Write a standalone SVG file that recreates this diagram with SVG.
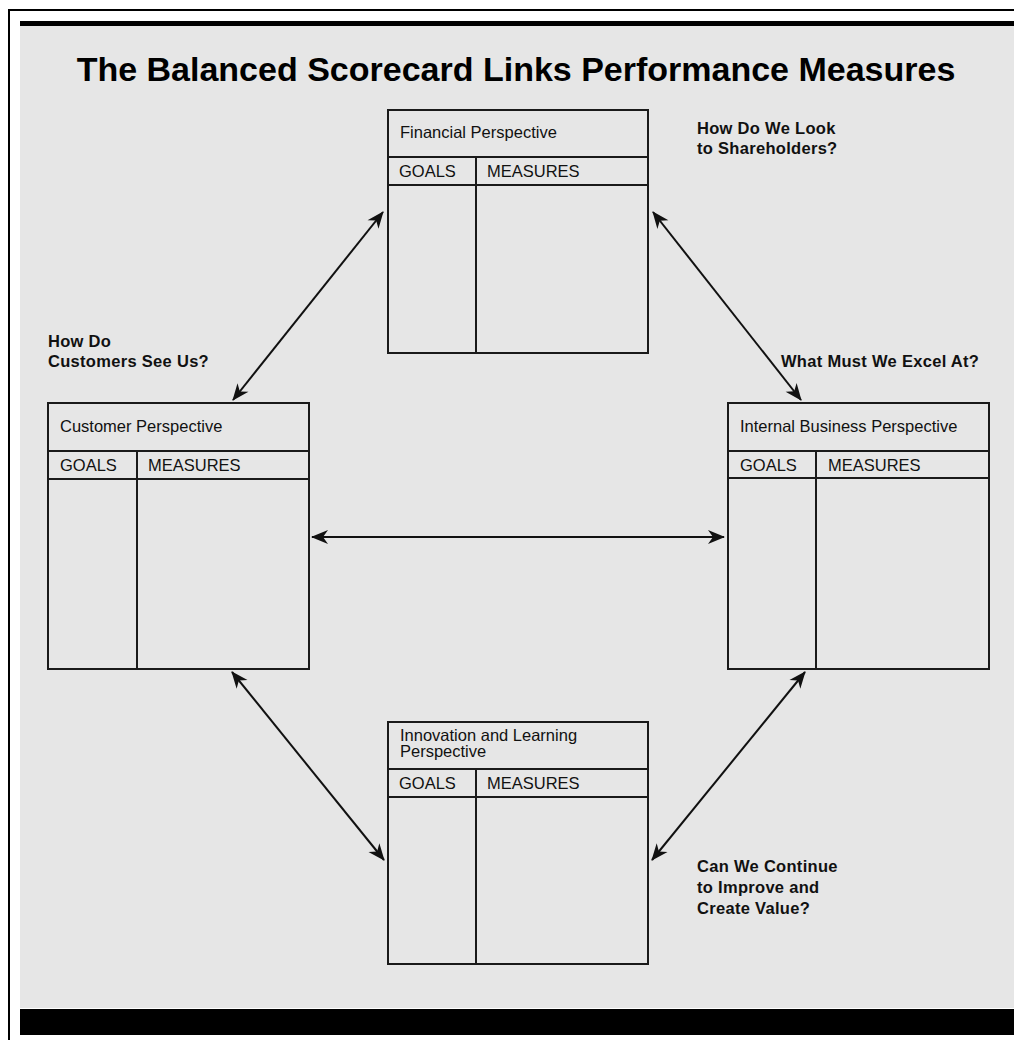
<svg xmlns="http://www.w3.org/2000/svg" width="1014" height="1040" viewBox="0 0 1014 1040">
<style>
.box{fill:none;stroke:#1a1a1a;stroke-width:2}
.ln{stroke:#1a1a1a;stroke-width:2}
.t{font-family:"Liberation Sans",Arial,sans-serif;font-size:16.5px;fill:#111}
.q{font-family:"Liberation Sans",Arial,sans-serif;font-size:16.5px;font-weight:bold;fill:#111;letter-spacing:0.3px}
.title{font-family:"Liberation Sans",Arial,sans-serif;font-size:34px;font-weight:bold;fill:#000}
.conn{stroke:#111;stroke-width:2;fill:none;marker-start:url(#ah);marker-end:url(#ah)}
</style>
<defs>
<marker id="ah" viewBox="-17 -8 18 16" refX="0" refY="0" markerWidth="18" markerHeight="16" markerUnits="userSpaceOnUse" orient="auto-start-reverse">
<path d="M1,0 L-16,-7 L-11,0 L-16,7 Z" fill="#111"/>
</marker>
</defs>
<rect x="0" y="0" width="1014" height="1040" fill="#fff"/>
<path d="M9,1040 V10 H1014" fill="none" stroke="#000" stroke-width="2"/>
<rect x="20" y="21" width="994" height="5" fill="#000"/>
<rect x="20" y="26" width="994" height="982" fill="#e6e6e6"/>
<rect x="20" y="1009" width="994" height="26" fill="#000"/>
<text class="title" x="516" y="81" text-anchor="middle">The Balanced Scorecard Links Performance Measures</text>

<g id="connectors">
<line class="conn" x1="383" y1="212" x2="233" y2="400"/>
<line class="conn" x1="653" y1="212" x2="801" y2="400"/>
<line class="conn" x1="312" y1="537" x2="724" y2="537"/>
<line class="conn" x1="232" y1="672" x2="384" y2="860"/>
<line class="conn" x1="805" y1="672" x2="652" y2="860"/>
</g>

<g id="financial">
<rect class="box" x="388" y="110" width="260" height="243"/>
<line class="ln" x1="388" y1="157" x2="648" y2="157"/>
<line class="ln" x1="388" y1="185" x2="648" y2="185"/>
<line class="ln" x1="476" y1="157" x2="476" y2="353"/>
<text class="t" x="400" y="138">Financial Perspective</text>
<text class="t" x="399" y="177">GOALS</text>
<text class="t" x="487" y="177">MEASURES</text>
</g>

<g id="customer">
<rect class="box" x="48" y="403" width="261" height="266"/>
<line class="ln" x1="48" y1="451" x2="309" y2="451"/>
<line class="ln" x1="48" y1="479" x2="309" y2="479"/>
<line class="ln" x1="137" y1="451" x2="137" y2="669"/>
<text class="t" x="60" y="432">Customer Perspective</text>
<text class="t" x="60" y="471">GOALS</text>
<text class="t" x="148" y="471">MEASURES</text>
</g>

<g id="internal">
<rect class="box" x="728" y="403" width="261" height="266"/>
<line class="ln" x1="728" y1="451" x2="989" y2="451"/>
<line class="ln" x1="728" y1="478" x2="989" y2="478"/>
<line class="ln" x1="816" y1="451" x2="816" y2="669"/>
<text class="t" x="740" y="432">Internal Business Perspective</text>
<text class="t" x="740" y="471">GOALS</text>
<text class="t" x="828" y="471">MEASURES</text>
</g>

<g id="innovation">
<rect class="box" x="388" y="722" width="260" height="242"/>
<line class="ln" x1="388" y1="769" x2="648" y2="769"/>
<line class="ln" x1="388" y1="797" x2="648" y2="797"/>
<line class="ln" x1="476" y1="769" x2="476" y2="964"/>
<text class="t" x="400" y="741">Innovation and Learning</text>
<text class="t" x="400" y="757">Perspective</text>
<text class="t" x="399" y="789">GOALS</text>
<text class="t" x="487" y="789">MEASURES</text>
</g>

<g id="labels">
<text class="q" x="697" y="134">How Do We Look</text>
<text class="q" x="697" y="154">to Shareholders?</text>
<text class="q" x="48" y="347">How Do</text>
<text class="q" x="48" y="367">Customers See Us?</text>
<text class="q" x="781" y="367">What Must We Excel At?</text>
<text class="q" x="697" y="872">Can We Continue</text>
<text class="q" x="697" y="893">to Improve and</text>
<text class="q" x="697" y="914">Create Value?</text>
</g>
</svg>
